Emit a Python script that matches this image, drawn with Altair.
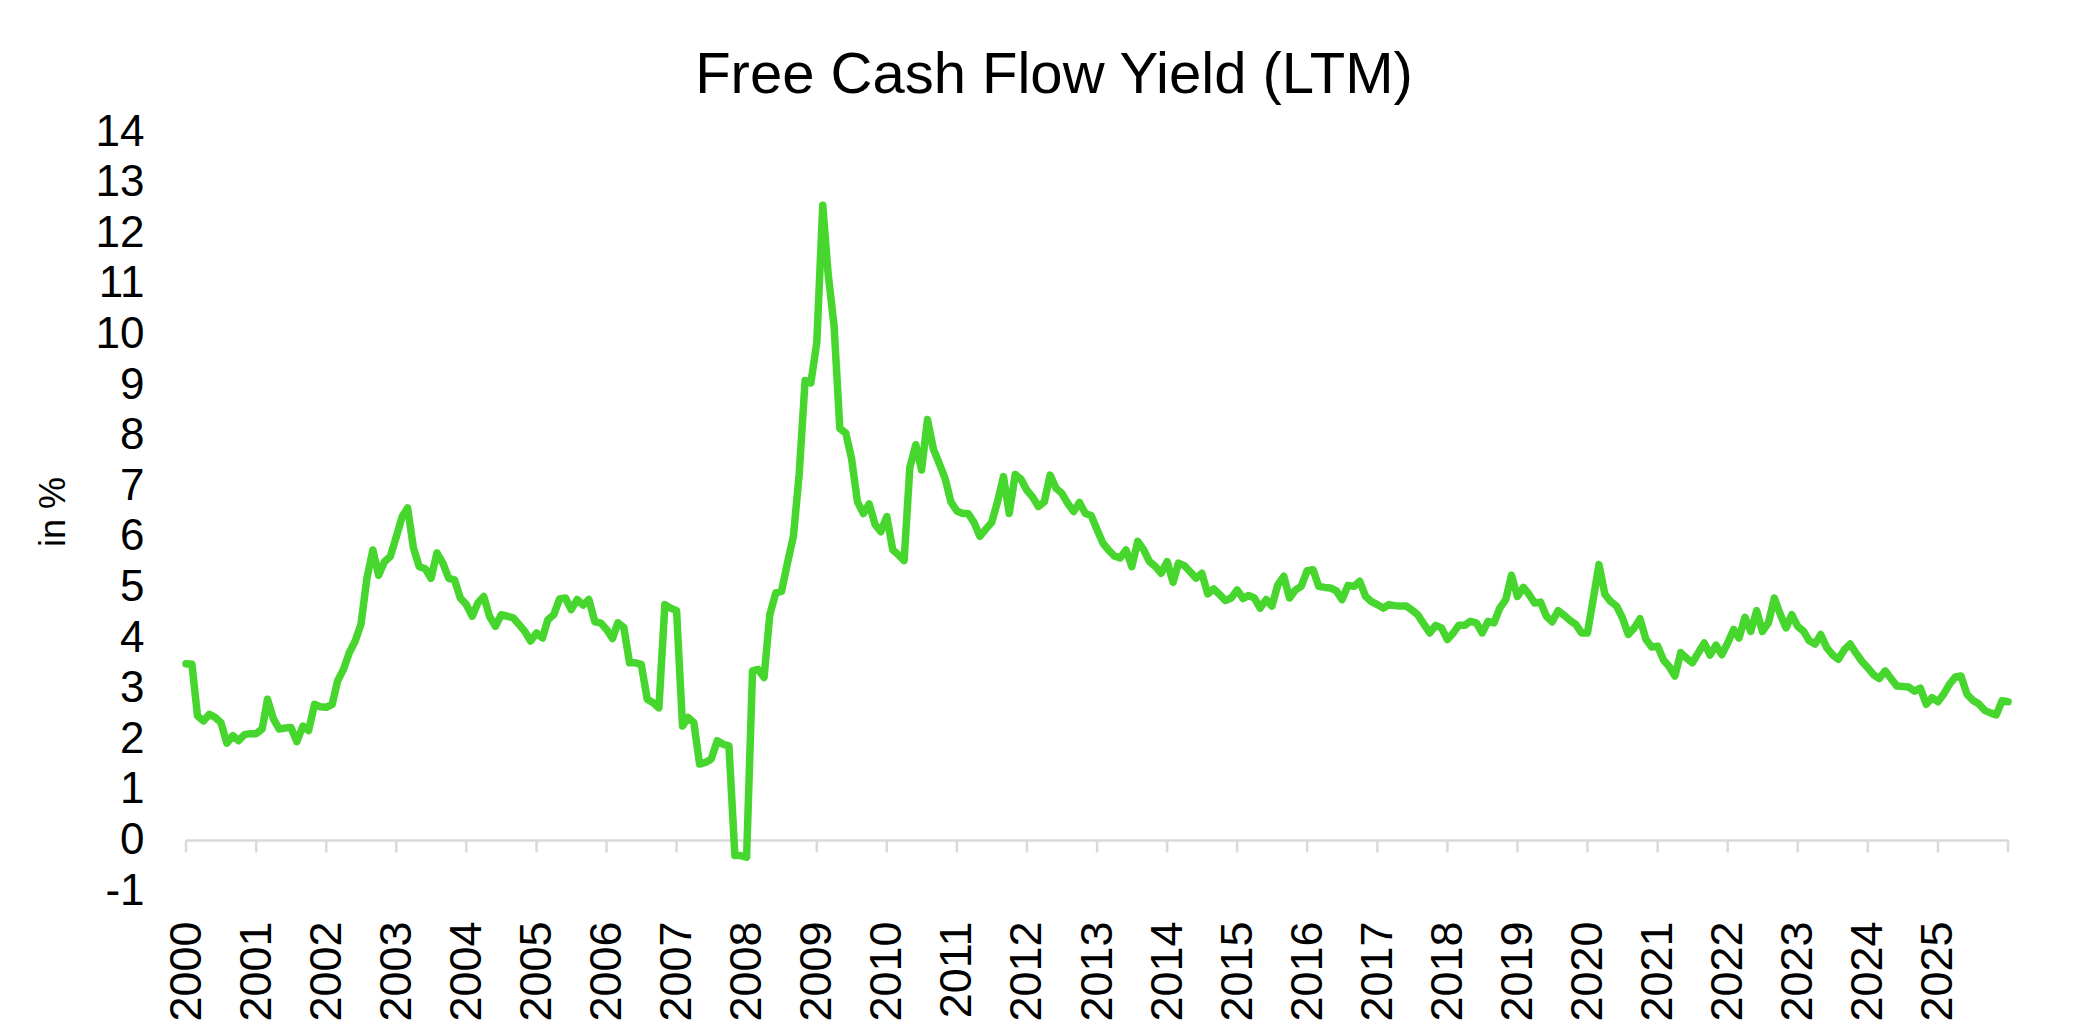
import altair as alt
import pandas as pd

FONT = "Liberation Sans"
LINE_COLOR = "#46d62e"
AXIS_GREY = "#d9d9d9"

# Monthly Free Cash Flow Yield (LTM), in % (Jan 2000 .. Jan 2026)
v2000 = [3.49, 3.48, 2.46, 2.36, 2.49, 2.43, 2.33, 1.92, 2.07, 1.97, 2.09, 2.11]
v2001 = [2.11, 2.20, 2.79, 2.40, 2.20, 2.22, 2.23, 1.95, 2.26, 2.17, 2.69, 2.64]
v2002 = [2.63, 2.69, 3.15, 3.38, 3.71, 3.94, 4.27, 5.18, 5.74, 5.24, 5.51, 5.61]
v2003 = [6.00, 6.40, 6.57, 5.77, 5.41, 5.37, 5.18, 5.68, 5.48, 5.18, 5.15, 4.79]
v2004 = [4.66, 4.43, 4.69, 4.82, 4.43, 4.23, 4.46, 4.43, 4.40, 4.27, 4.13, 3.94]
v2005 = [4.10, 4.00, 4.36, 4.46, 4.77, 4.79, 4.56, 4.76, 4.65, 4.76, 4.32, 4.30]
v2006 = [4.17, 3.99, 4.30, 4.21, 3.51, 3.51, 3.48, 2.79, 2.72, 2.62, 4.66, 4.59]
v2007 = [4.54, 2.26, 2.43, 2.33, 1.51, 1.54, 1.61, 1.97, 1.90, 1.87, -0.30, -0.30]
v2008 = [-0.33, 3.35, 3.38, 3.22, 4.46, 4.89, 4.92, 5.48, 6.01, 7.23, 9.09, 9.04]
v2009 = [9.84, 12.55, 11.20, 10.17, 8.14, 8.05, 7.55, 6.69, 6.46, 6.65, 6.24, 6.10]
v2010 = [6.40, 5.74, 5.65, 5.53, 7.37, 7.82, 7.32, 8.32, 7.73, 7.45, 7.15, 6.69]
v2011 = [6.51, 6.46, 6.46, 6.28, 6.01, 6.15, 6.28, 6.69, 7.19, 6.46, 7.23, 7.14]
v2012 = [6.92, 6.78, 6.60, 6.69, 7.22, 6.96, 6.86, 6.66, 6.50, 6.68, 6.46, 6.42]
v2013 = [6.14, 5.87, 5.74, 5.62, 5.58, 5.74, 5.41, 5.91, 5.74, 5.51, 5.41, 5.28]
v2014 = [5.51, 5.10, 5.48, 5.43, 5.31, 5.18, 5.28, 4.87, 4.97, 4.86, 4.74, 4.79]
v2015 = [4.95, 4.78, 4.84, 4.79, 4.59, 4.76, 4.63, 5.05, 5.22, 4.79, 4.95, 5.02]
v2016 = [5.33, 5.35, 5.02, 5.00, 4.99, 4.93, 4.76, 5.04, 5.02, 5.12, 4.82, 4.72]
v2017 = [4.66, 4.59, 4.66, 4.64, 4.63, 4.63, 4.55, 4.45, 4.27, 4.10, 4.25, 4.20]
v2018 = [3.97, 4.10, 4.25, 4.25, 4.33, 4.30, 4.10, 4.33, 4.30, 4.59, 4.76, 5.24]
v2019 = [4.82, 5.00, 4.87, 4.69, 4.71, 4.43, 4.32, 4.54, 4.45, 4.35, 4.27, 4.10]
v2020 = [4.10, 4.79, 5.45, 4.86, 4.72, 4.63, 4.40, 4.07, 4.20, 4.38, 3.97, 3.82]
v2021 = [3.84, 3.56, 3.44, 3.25, 3.71, 3.60, 3.51, 3.71, 3.90, 3.66, 3.86, 3.67]
v2022 = [3.90, 4.17, 4.00, 4.41, 4.13, 4.54, 4.13, 4.30, 4.79, 4.48, 4.20, 4.46]
v2023 = [4.23, 4.13, 3.95, 3.88, 4.07, 3.81, 3.67, 3.58, 3.77, 3.88, 3.70, 3.54]
v2024 = [3.41, 3.27, 3.20, 3.35, 3.20, 3.05, 3.04, 3.03, 2.95, 3.01, 2.69, 2.82]
v2025 = [2.74, 2.90, 3.08, 3.23, 3.25, 2.89, 2.77, 2.70, 2.57, 2.52, 2.48, 2.76]
v2026 = [2.74]

values = (v2000 + v2001 + v2002 + v2003 + v2004 + v2005 + v2006 + v2007 + v2008
          + v2009 + v2010 + v2011 + v2012 + v2013 + v2014 + v2015 + v2016 + v2017
          + v2018 + v2019 + v2020 + v2021 + v2022 + v2023 + v2024 + v2025 + v2026)

label_years = list(range(2000, 2026))
tick_years = list(range(2000, 2027))
y_ticks = list(range(-1, 15))

dates = pd.date_range("2000-01-01", periods=len(values), freq="MS")
df = pd.DataFrame({"date": dates.strftime("%Y-%m-%dT00:00:00"), "value": values})
ticks_df = pd.DataFrame({"date": [f"{y}-01-01T00:00:00" for y in tick_years]})

x_scale = alt.Scale(domain=[alt.DateTime(year=tick_years[0], month=1, date=1),
                            alt.DateTime(year=tick_years[-1], month=1, date=1)])
y_scale = alt.Scale(domain=[y_ticks[0], y_ticks[-1]], nice=False, zero=False)

x_axis = alt.Axis(
    values=[alt.DateTime(year=y, month=1, date=1) for y in label_years],
    format="%Y", labelAngle=270, labelFont=FONT, labelFontSize=45,
    labelColor="black", labelPadding=30, labelOverlap=False, labelFlush=False,
    domain=False, ticks=False, grid=False, title=None,
)
y_axis = alt.Axis(
    values=y_ticks, labelExpr="'' + datum.value",
    labelFont=FONT, labelFontSize=44, labelColor="black",
    labelPadding=42, domain=False, ticks=False, grid=False,
    title="in %", titleFont=FONT, titleFontSize=36, titleFontWeight="normal",
    titleColor="black", titleAngle=270, titleX=-133, titleY=379.5,
    titleAlign="center", titleBaseline="middle",
)

line = alt.Chart(df).mark_line(
    color=LINE_COLOR, strokeWidth=7.5, strokeJoin="round", strokeCap="round"
).encode(
    x=alt.X("date:T", scale=x_scale, axis=x_axis),
    y=alt.Y("value:Q", scale=y_scale, axis=y_axis),
)

baseline = alt.Chart(ticks_df).mark_rule(color=AXIS_GREY, strokeWidth=2.5).encode(
    x=alt.X("min(date):T", scale=x_scale, axis=x_axis),
    x2=alt.X2("max(date):T"),
    y=alt.Y(datum=0, scale=y_scale, axis=y_axis),
)

ticks = alt.Chart(ticks_df).mark_rule(color=AXIS_GREY, strokeWidth=2.5, y2Offset=12).encode(
    x=alt.X("date:T", scale=x_scale, axis=x_axis),
    y=alt.Y(datum=0, scale=y_scale, axis=y_axis),
    y2=alt.Y2(datum=0),
)

chart = alt.layer(baseline, ticks, line).properties(
    width=1822,
    height=759,
    title=alt.TitleParams(
        "Free Cash Flow Yield (LTM)", font=FONT, fontSize=58, fontWeight="normal",
        color="black", anchor="middle", baseline="alphabetic", offset=18, dx=-43, dy=59,
    ),
    autosize=alt.AutoSizeParams(type="none"),
    padding={"left": 178, "top": 124, "right": 69, "bottom": 135},
).configure(background="white").configure_view(stroke=None)

chart.save("out.html", embed_options={"renderer": "svg", "actions": False})
